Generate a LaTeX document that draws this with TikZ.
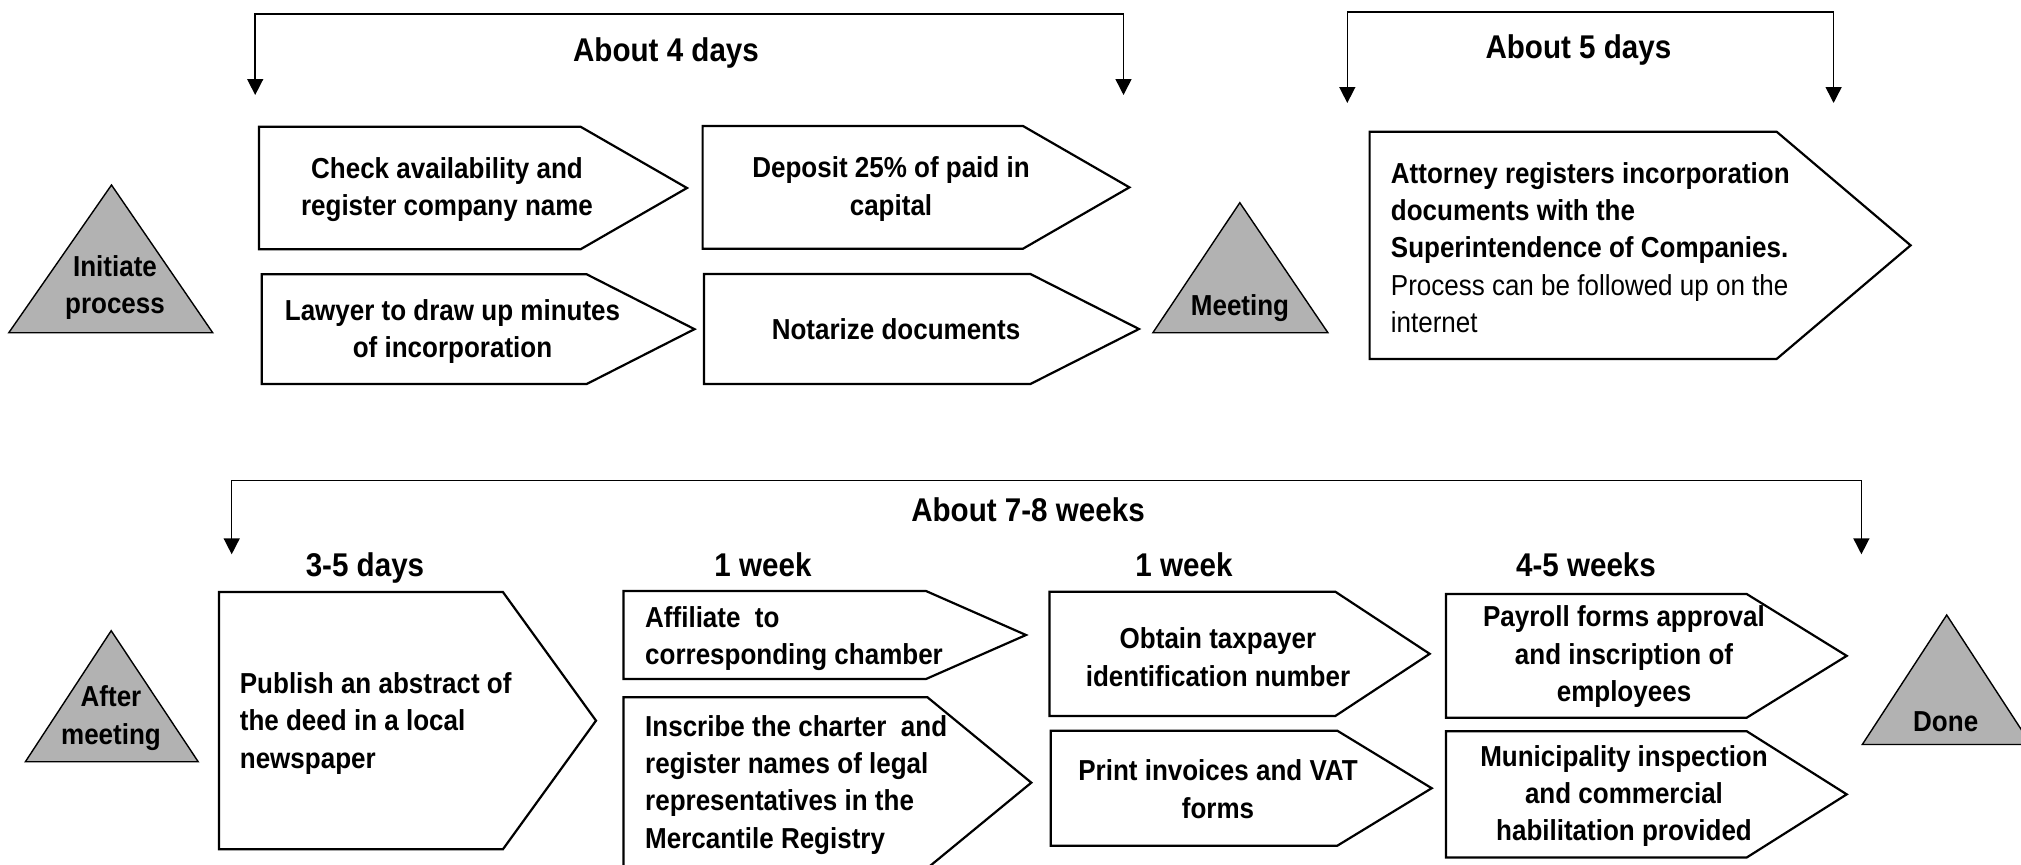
\documentclass[tikz,border=0pt]{standalone}
\usepackage{fontspec}
\setmainfont{Liberation Sans}[FakeStretch=0.9]
\usetikzlibrary{arrows.meta}
\definecolor{trigray}{RGB}{178,178,178}
\newcommand{\pentbox}[5]{%
  \draw[pentline] (#1,#2) -- (#4,#2) -- (#5,{(#2+#3)/2}) -- (#4,#3) -- (#1,#3) -- cycle;}
\begin{document}
\begin{tikzpicture}[x=1bp,y=-1bp,
  pentline/.style={draw=black,line width=2.2bp,fill=white,line join=miter},
  tri/.style={draw=black,line width=1.4bp,fill=trigray},
  bracket/.style={draw=black,line width=1.5bp,{Triangle[width=16bp,length=16bp]}-{Triangle[width=16bp,length=16bp]}},
  body/.style={font=\fontsize{29}{37.5}\selectfont\bfseries,inner sep=0pt,align=center},
  lbody/.style={font=\fontsize{29}{37.5}\selectfont\bfseries,inner sep=0pt,align=left,anchor=west},
  lab/.style={font=\fontsize{33}{38}\selectfont\bfseries,inner sep=0pt,anchor=base}]
\useasboundingbox (0,0) rectangle (2021,865);

% ---------- brackets ----------
\coordinate (b1a) at (255.2,95); \coordinate (b1b) at (255.2,14);
\coordinate (b1c) at (1123.5,14); \coordinate (b1d) at (1123.5,95);
\draw[bracket] (b1a) -- (b1b) -- (b1c) -- (b1d);
\node[lab] (l4d) at (666,61.7) {About 4 days};

\coordinate (b2a) at (1347.3,103); \coordinate (b2b) at (1347.3,12);
\coordinate (b2c) at (1833.6,12); \coordinate (b2d) at (1833.6,103);
\draw[bracket] (b2a) -- (b2b) -- (b2c) -- (b2d);
\node[lab] (l5d) at (1578.4,58.3) {About 5 days};

\coordinate (b3a) at (231.7,554.3); \coordinate (b3b) at (231.7,480.7);
\coordinate (b3c) at (1861.4,480.7); \coordinate (b3d) at (1861.4,554.3);
\draw[bracket] (b3a) -- (b3b) -- (b3c) -- (b3d);
\node[lab] (l78w) at (1028,521.7) {About 7-8 weeks};

\node[lab] (l35d) at (365,576) {3-5 days};
\node[lab] (l1wa) at (763,576) {1 week};
\node[lab] (l1wb) at (1184,576) {1 week};
\node[lab] (l45w) at (1586,576) {4-5 weeks};

% ---------- triangles ----------
\draw[tri] (8.8,332.7) -- (111.5,185) -- (212.7,332.7) -- cycle;
\node[body] (init) at (115,287.5) {Initiate\\process};
\draw[tri] (1152.9,332.7) -- (1239.8,202.7) -- (1327.9,332.7) -- cycle;
\node[body] (meet) at (1240,308) {Meeting};
\draw[tri] (25.4,761.7) -- (111.2,630.7) -- (198.2,761.7) -- cycle;
\node[body] (after) at (111,718) {After\\meeting};
\draw[tri] (1862.3,744.5) -- (1946.7,615) -- (2031,744.5) -- cycle;
\node[body] (done) at (1945.7,721.7) {Done};

% ---------- top pentagons ----------
\pentbox{258.9}{126.7}{249.3}{580.5}{687}
\node[body] (check) at (447,189.5) {Check availability and\\register company name};
\pentbox{702.6}{126}{248.7}{1023}{1129.4}
\node[body] (deposit) at (891,189) {Deposit 25\% of paid in\\capital};
\pentbox{261.8}{274.3}{384}{586.7}{694.5}
\node[body] (lawyer) at (452.5,331.5) {Lawyer to draw up minutes\\of incorporation};
\pentbox{704}{274}{384}{1030.4}{1139}
\node[body] (notar) at (896,329) {Notarize documents};
\pentbox{1369.6}{131.7}{359}{1776.6}{1910.6}
\node[lbody] (attor) at (1390.7,247.5) {Attorney registers incorporation\\documents with the\\Superintendence of Companies.\\\mdseries Process can be followed up on the\\\mdseries internet};

% ---------- bottom pentagons ----------
\pentbox{219}{592}{849.3}{502.9}{596}
\node[lbody] (publish) at (239.7,723.3) {Publish an abstract of\\the deed in a local\\newspaper};
\pentbox{623.5}{591}{679}{926}{1026}
\node[lbody] (affil) at (645,638.3) {Affiliate\ \ to\\corresponding chamber};
\pentbox{623.5}{697.3}{868}{927.5}{1031.3}
\node[lbody] (inscr) at (645,784.8) {Inscribe the charter\ \ and\\register names of legal\\representatives in the\\Mercantile Registry};
\pentbox{1049.5}{591.7}{716}{1335.3}{1429.7}
\node[body] (obtain) at (1218,657) {Obtain taxpayer\\identification number};
\pentbox{1050.8}{730.7}{845.7}{1337.3}{1431.7}
\node[body] (print) at (1218,789) {Print invoices and VAT\\forms};
\pentbox{1446}{594}{717.7}{1746.7}{1846.7}
\node[body] (payroll) at (1624,656.7) {Payroll forms approval\\and inscription of\\employees};
\pentbox{1446}{731.2}{857.5}{1746.7}{1846.7}
\node[body] (munic) at (1624,796) {Municipality inspection\\and commercial\\habilitation provided};
\end{tikzpicture}
\end{document}
